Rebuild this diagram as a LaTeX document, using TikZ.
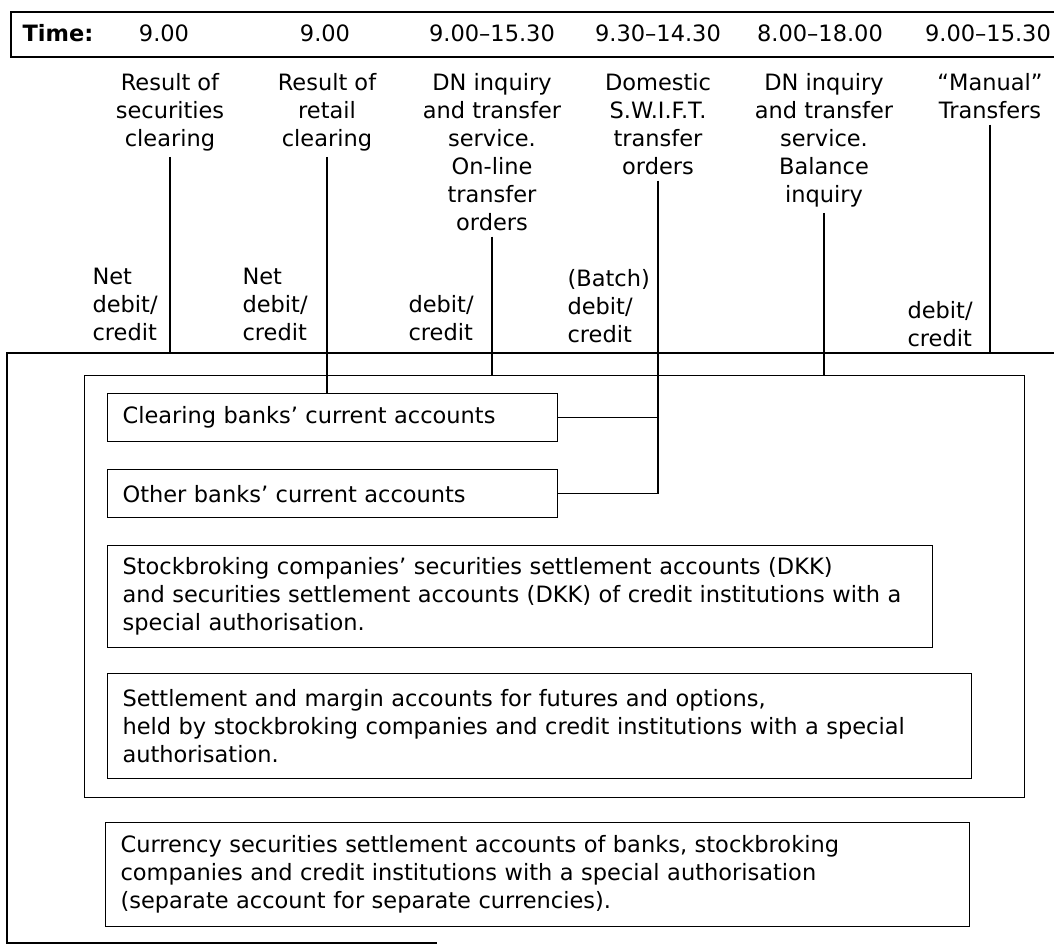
\documentclass[tikz,border=0pt]{standalone}
\usepackage{fontspec}
\setmainfont{DejaVu Sans}
\usetikzlibrary{positioning}

\begin{document}
\begin{tikzpicture}[
        x=1pt, y=-1pt,
        font=\fontsize{22.5}{28}\selectfont,
        line width=1.1pt,
        desc/.style = {align=center, inner sep=0pt, anchor=north},
        lbl/.style = {align=left, inner sep=0pt, anchor=south west},
        acct/.style = {draw, anchor=north west, align=left, inner xsep=15pt, inner ysep=0pt},
        line/.style = {draw, shorten <=5pt}
    ]
        \useasboundingbox (0,0) rectangle (1054,947);

        % Time bar
        \draw (1054,12) -- (11,12) -- (11,57) -- (1054,57);
        \node (time) [anchor=base west, inner sep=0pt] at (22,42) {\textbf{Time:}};
        \node (t1) [anchor=base] at (164,42) {9.00};
        \node (t2) [anchor=base] at (325,42) {9.00};
        \node (t3) [anchor=base] at (492,42) {9.00--15.30};
        \node (t4) [anchor=base] at (658,42) {9.30--14.30};
        \node (t5) [anchor=base] at (820,42) {8.00--18.00};
        \node (t6) [anchor=base] at (988,42) {9.00--15.30};

        % Services
        \node (d1) [desc] at (170,73) {Result of\\securities\\clearing};
        \node (d2) [desc] at (327,73) {Result of\\retail\\clearing};
        \node (d3) [desc] at (492,73) {DN inquiry\\and transfer\\service.\\On-line\\transfer\\orders};
        \node (d4) [desc] at (658,73) {Domestic\\S.W.I.F.T.\\transfer\\orders};
        \node (d5) [desc] at (824,73) {DN inquiry\\and transfer\\service.\\Balance\\inquiry};
        \node (d6) [desc] at (990,73) {“Manual”\\Transfers};

        % Booking labels
        \node (l1) [lbl] at (92,341) {Net\\debit/\\credit};
        \node (l2) [lbl] at (242,341) {Net\\debit/\\credit};
        \node (l3) [lbl] at (408,341) {debit/\\credit};
        \node (l4) [lbl] at (567,343) {(Batch)\\debit/\\credit};
        \node (l6) [lbl] at (907,347) {debit/\\credit};

        % Outer and inner frames
        \coordinate (otl) at (7,353);
        \draw (1054,353) -- (otl) -- (7,943) -- (437,943);
        \node (inner) [draw, anchor=north west, inner sep=0pt, minimum width=940pt, minimum height=422pt] at (84,375) {};

        % Accounts
        \node (clearing) [acct, text width=420pt, minimum height=48pt] at (107,393) {Clearing banks’ current accounts};
        \node (other) [acct, text width=420pt, minimum height=48pt, below=27pt of clearing.south west, anchor=north west] {Other banks’ current accounts};
        \node (stock) [acct, text width=795pt, minimum height=102pt, below=27pt of other.south west, anchor=north west] {Stockbroking companies’ securities settlement accounts (DKK)\\and securities settlement accounts (DKK) of credit institutions with a\\special authorisation.};
        \node (settle) [acct, text width=834pt, minimum height=105pt, below=25pt of stock.south west, anchor=north west] {Settlement and margin accounts for futures and options,\\held by stockbroking companies and credit institutions with a special\\authorisation.};
        \node (currency) [acct, text width=834pt, minimum height=104pt] at (105,822) {Currency securities settlement accounts of banks, stockbroking\\companies and credit institutions with a special authorisation\\(separate account for separate currencies).};

        % Connectors
        \draw [line] (d1.south) -- (d1.south |- otl);
        \draw [line] (d2.south) -- (d2.south |- clearing.north);
        \draw [line] (d3.south) -- (d3.south |- inner.north);
        \draw [line] (d4.south) |- (other.east);
        \draw (clearing.east) -- (clearing.east -| d4.south);
        \draw [line] (d5.south) -- (d5.south |- inner.north);
        \draw [line] (d6.south) -- (d6.south |- otl);
    \end{tikzpicture}
\end{document}
